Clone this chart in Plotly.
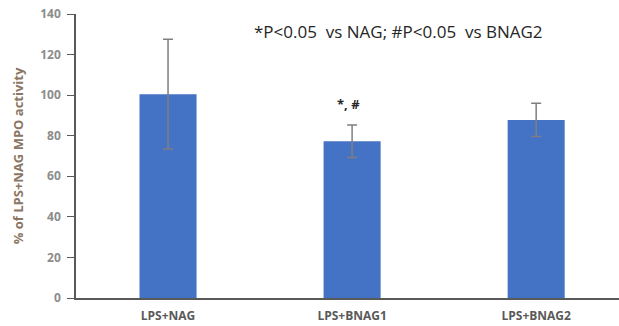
import plotly.graph_objects as go

categories = ["LPS+NAG", "LPS+BNAG1", "LPS+BNAG2"]
values = [100.5, 77.3, 87.8]
errors = [27.0, 8.0, 8.2]
y_ticks = [0, 20, 40, 60, 80, 100, 120, 140]

fig = go.Figure()
fig.add_trace(go.Bar(
    x=[0, 1, 2], y=values,
    marker=dict(color="#4472C4", line=dict(width=0)),
    width=0.31,
    error_y=dict(type="data", array=errors, visible=True, color="#7f7f7f",
                 thickness=1.5, width=5),
))
fig.add_annotation(x=1.25, y=131.5, xref="x", yref="y",
                   text="*P<0.05  vs NAG; #P<0.05  vs BNAG2", showarrow=False,
                   font=dict(family="Open Sans, sans-serif", size=17, color="#262626"))
fig.add_annotation(x=0.98, y=95.5, xref="x", yref="y", text="<b>*, #</b>", showarrow=False,
                   font=dict(family="Open Sans, sans-serif", size=13, color="#262626"))

fig.update_layout(
    width=619, height=326,
    margin=dict(l=76, r=0, t=14, b=28),
    plot_bgcolor="white", paper_bgcolor="white",
    showlegend=False,
    font=dict(family="Open Sans, sans-serif"),
    xaxis=dict(range=[-0.5, 2.45], tickmode="array", tickvals=[0, 1, 2],
               ticktext=["<b>" + c + "</b>" for c in categories],
               showline=True, linecolor="#595959", linewidth=1.5, ticks="",
               ticklabelstandoff=6,
               tickfont=dict(size=12, color="#595959"), showgrid=False, zeroline=False),
    yaxis=dict(range=[0, 140], tickmode="array", tickvals=y_ticks,
               ticktext=["<b>%d</b>" % t for t in y_ticks],
               showline=True, linecolor="#595959", linewidth=1.5,
               ticks="outside", ticklen=7, tickcolor="#595959",
               ticklabelstandoff=4,
               tickfont=dict(size=12, color="#8c8c8c"), showgrid=False, zeroline=False,
               title=dict(text="<b>% of LPS+NAG MPO activity</b>",
                          font=dict(size=13, color="#8a7663"), standoff=14)),
)
fig.write_html("out.html")
